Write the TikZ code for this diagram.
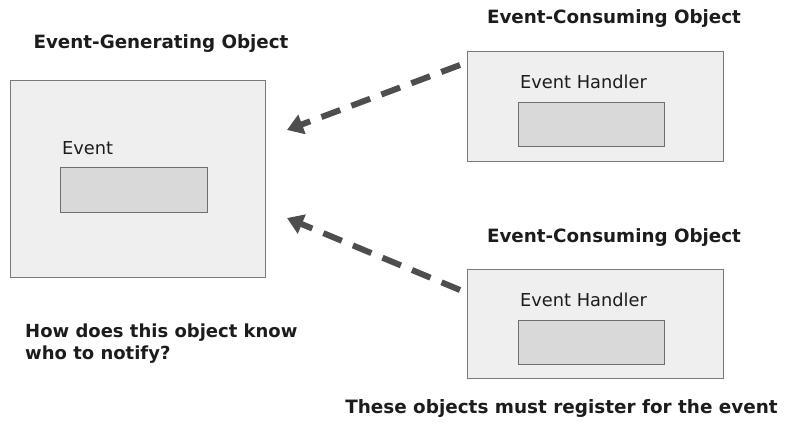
\documentclass[tikz,border=0pt]{standalone}
\usepackage{fontspec}
\setmainfont{DejaVu Sans}
\usetikzlibrary{arrows.meta}
\definecolor{outerfill}{HTML}{EFEFEF}
\definecolor{outerdraw}{HTML}{7A7A7A}
\definecolor{innerfill}{HTML}{D9D9D9}
\definecolor{innerdraw}{HTML}{6E6E6E}
\definecolor{arrowcol}{HTML}{4E4E4E}
\definecolor{txt}{HTML}{1C1C1C}
\tikzset{
  outerbox/.style={draw=outerdraw, fill=outerfill, line width=1.2pt, anchor=north west, inner sep=0pt},
  innerbox/.style={draw=innerdraw, fill=innerfill, line width=1.2pt, anchor=north west, inner sep=0pt},
  titletext/.style={text=txt, font=\fontsize{18.3}{22}\selectfont\bfseries, inner sep=0pt},
  labeltext/.style={text=txt, font=\fontsize{17.8}{20}\selectfont, inner sep=0pt, anchor=west},
  notetext/.style={text=txt, font=\fontsize{18}{22}\selectfont\bfseries, inner sep=0pt},
  regarrow/.style={draw=arrowcol, line width=6pt, dash pattern=on 20pt off 12pt,
    -{Triangle[length=16pt,width=20pt]}}
}
\begin{document}
\begin{tikzpicture}[x=1pt,y=-1pt]
\useasboundingbox (0,0) rectangle (785,430);
% generating object
\node[titletext] (gentitle) at (161,44) {Event-Generating Object};
\node[outerbox, minimum width=255pt, minimum height=197pt] (gen) at (10,80) {};
\node[labeltext] (evlabel) at (62,148) {Event};
\node[innerbox, minimum width=147pt, minimum height=45pt] (ev) at (60,167) {};
% consuming object 1
\node[titletext] (c1title) at (614,19) {Event-Consuming Object};
\node[outerbox, minimum width=256pt, minimum height=110pt] (c1) at (467,51) {};
\node[labeltext] (h1label) at (520,82) {Event Handler};
\node[innerbox, minimum width=146pt, minimum height=44pt] (h1) at (518,102) {};
% consuming object 2
\node[titletext] (c2title) at (614,238) {Event-Consuming Object};
\node[outerbox, minimum width=256pt, minimum height=109pt] (c2) at (467,269) {};
\node[labeltext] (h2label) at (520,300) {Event Handler};
\node[innerbox, minimum width=146pt, minimum height=44pt] (h2) at (518,320) {};
% notes
\node[notetext, anchor=west, align=left] (question) at (25,344) {How does this object know\\who to notify?};
\node[notetext, anchor=east, font=\fontsize{18.4}{22}\selectfont\bfseries] (register) at (778,408) {These objects must register for the event};
% arrows
\coordinate (a1s) at (460,65);
\coordinate (a1e) at (287,130);
\coordinate (a2s) at (460,290);
\coordinate (a2e) at (287,218);
\draw[regarrow] (a1s) -- (a1e);
\draw[regarrow] (a2s) -- (a2e);
\end{tikzpicture}
\end{document}
